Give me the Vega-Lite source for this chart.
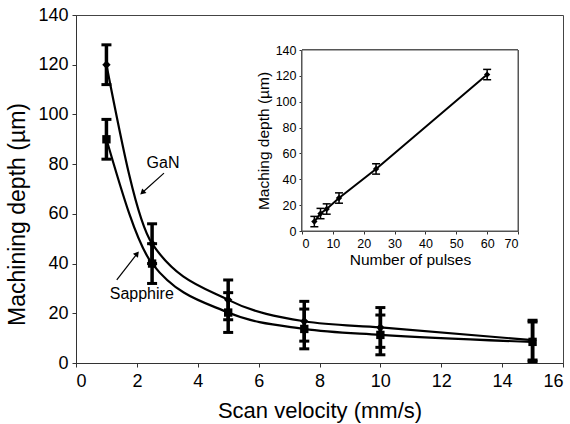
{
  "$schema": "https://vega.github.io/schema/vega-lite/v6.json",
  "width": 487,
  "height": 348,
  "autosize": {"type": "none"},
  "padding": {"left": 76, "top": 15, "right": 7, "bottom": 61},
  "background": "white",
  "config": {
    "font": "Liberation Sans",
    "view": {"stroke": "#444", "strokeWidth": 1},
    "axis": {"grid": false, "domainColor": "#333", "tickColor": "#333", "labelColor": "black", "titleColor": "black", "titleFontWeight": "normal", "labelFont": "Liberation Sans", "titleFont": "Liberation Sans"}
  },
  "datasets": {
    "main": [
      {"material": "GaN", "velocity": 1, "depth": 120, "lo": 112, "hi": 128},
      {"material": "GaN", "velocity": 2.5, "depth": 48, "lo": 40, "hi": 56},
      {"material": "GaN", "velocity": 5, "depth": 25.4, "lo": 17.4, "hi": 33.4},
      {"material": "GaN", "velocity": 7.5, "depth": 16.8, "lo": 8.8, "hi": 24.8},
      {"material": "GaN", "velocity": 10, "depth": 14.3, "lo": 6.3, "hi": 22.3},
      {"material": "GaN", "velocity": 15, "depth": 9.2, "lo": 1.2, "hi": 17.2},
      {"material": "Sapphire", "velocity": 1, "depth": 90, "lo": 82, "hi": 98},
      {"material": "Sapphire", "velocity": 2.5, "depth": 40, "lo": 32, "hi": 48},
      {"material": "Sapphire", "velocity": 5, "depth": 20.3, "lo": 12.3, "hi": 28.3},
      {"material": "Sapphire", "velocity": 7.5, "depth": 13.7, "lo": 5.7, "hi": 21.7},
      {"material": "Sapphire", "velocity": 10, "depth": 11.3, "lo": 3.3, "hi": 19.3},
      {"material": "Sapphire", "velocity": 15, "depth": 8.5, "lo": 0.5, "hi": 16.5}
    ],
    "inset": [
      {"pulses": 4, "depth": 7.3, "lo": 3.3, "hi": 11.3},
      {"pulses": 6, "depth": 13.5, "lo": 9.5, "hi": 17.5},
      {"pulses": 8, "depth": 17, "lo": 13, "hi": 21},
      {"pulses": 12, "depth": 25.5, "lo": 21.5, "hi": 29.5},
      {"pulses": 24, "depth": 48, "lo": 44, "hi": 52},
      {"pulses": 60, "depth": 121, "lo": 117, "hi": 125}
    ],
    "notes": [
      {"label": "GaN", "x": 2.86, "y": 80.5},
      {"label": "Sapphire", "x": 2.16, "y": 27.8}
    ],
    "arrows": [
      {"label": "GaN", "x": 2.89, "y": 76.4, "x2": 2.2, "y2": 68.8},
      {"label": "Sapphire", "x": 1.34, "y": 33.4, "x2": 1.99, "y2": 43.7}
    ]
  },
  "layer": [
    {
      "layer": [
        {
          "data": {"name": "main"},
          "mark": {"type": "line", "interpolate": "monotone", "color": "black", "strokeWidth": 2.2},
          "encoding": {
            "x": {"field": "velocity", "type": "quantitative", "scale": {"domain": [0, 16]},
              "axis": {"values": [0, 2, 4, 6, 8, 10, 12, 14, 16], "labelFontSize": 18, "tickSize": 4, "labelPadding": 5, "title": "Scan velocity (mm/s)", "titleFontSize": 22, "titlePadding": 10}},
            "y": {"field": "depth", "type": "quantitative", "scale": {"domain": [0, 140]},
              "axis": {"values": [0, 20, 40, 60, 80, 100, 120, 140], "labelFontSize": 18, "tickSize": 4, "labelPadding": 4, "title": "Machining depth (µm)", "titleFontSize": 23, "titleX": -59, "titleY": 199, "titleBaseline": "middle"}},
            "detail": {"field": "material"}
          }
        },
        {
          "data": {"name": "main"},
          "mark": {"type": "rule", "color": "black", "strokeWidth": 3.5},
          "encoding": {
            "x": {"field": "velocity", "type": "quantitative"},
            "y": {"field": "lo", "type": "quantitative"},
            "y2": {"field": "hi"}
          }
        },
        {
          "data": {"name": "main"},
          "mark": {"type": "tick", "orient": "horizontal", "color": "black", "opacity": 1, "size": 10, "thickness": 3},
          "encoding": {
            "x": {"field": "velocity", "type": "quantitative"},
            "y": {"field": "lo", "type": "quantitative"}
          }
        },
        {
          "data": {"name": "main"},
          "mark": {"type": "tick", "orient": "horizontal", "color": "black", "opacity": 1, "size": 10, "thickness": 3},
          "encoding": {
            "x": {"field": "velocity", "type": "quantitative"},
            "y": {"field": "hi", "type": "quantitative"}
          }
        },
        {
          "data": {"name": "main"},
          "mark": {"type": "point", "filled": true, "color": "black", "opacity": 1, "size": 70},
          "encoding": {
            "x": {"field": "velocity", "type": "quantitative"},
            "y": {"field": "depth", "type": "quantitative"},
            "shape": {"field": "material", "type": "nominal", "scale": {"domain": ["GaN", "Sapphire"], "range": ["diamond", "square"]}, "legend": null}
          }
        },
        {
          "data": {"name": "notes"},
          "mark": {"type": "text", "fontSize": 16, "color": "black", "font": "Liberation Sans"},
          "encoding": {
            "x": {"field": "x", "type": "quantitative"},
            "y": {"field": "y", "type": "quantitative"},
            "text": {"field": "label"}
          }
        },
        {
          "data": {"name": "arrows"},
          "mark": {"type": "rule", "color": "black", "strokeWidth": 1.2},
          "encoding": {
            "x": {"field": "x", "type": "quantitative"},
            "y": {"field": "y", "type": "quantitative"},
            "x2": {"field": "x2"},
            "y2": {"field": "y2"}
          }
        },
        {
          "data": {"name": "arrows"},
          "transform": [{"filter": "datum.label == 'GaN'"}],
          "mark": {"type": "point", "shape": "triangle", "filled": true, "color": "black", "opacity": 1, "size": 40, "angle": 228},
          "encoding": {
            "x": {"field": "x2", "type": "quantitative"},
            "y": {"field": "y2", "type": "quantitative"}
          }
        },
        {
          "data": {"name": "arrows"},
          "transform": [{"filter": "datum.label == 'Sapphire'"}],
          "mark": {"type": "point", "shape": "triangle", "filled": true, "color": "black", "opacity": 1, "size": 40, "angle": 38},
          "encoding": {
            "x": {"field": "x2", "type": "quantitative"},
            "y": {"field": "y2", "type": "quantitative"}
          }
        }
      ]
    },
    {
      "layer": [
        {
          "data": {"name": "inset"},
          "mark": {"type": "rect", "fill": "white", "stroke": "#555", "strokeWidth": 1},
          "encoding": {
            "x": {"datum": 0, "type": "quantitative", "scale": {"domain": [0, 70], "range": [226, 442]},
              "axis": {"orient": "bottom", "offset": -132, "values": [0, 10, 20, 30, 40, 50, 60, 70], "labelFontSize": 12.5, "tickSize": 3, "labelPadding": 3, "title": "Number of pulses", "titleFontSize": 15.5, "titlePadding": 3}},
            "x2": {"datum": 70},
            "y": {"datum": 0, "type": "quantitative", "scale": {"domain": [0, 140], "range": [216, 35]},
              "axis": {"orient": "left", "offset": -226, "values": [0, 20, 40, 60, 80, 100, 120, 140], "labelFontSize": 12.5, "tickSize": 3, "labelPadding": 3, "title": "Maching depth (µm)", "titleFontSize": 15.5, "titlePadding": 4}},
            "y2": {"datum": 140}
          }
        },
        {
          "data": {"name": "inset"},
          "mark": {"type": "line", "color": "black", "strokeWidth": 2},
          "encoding": {
            "x": {"field": "pulses", "type": "quantitative", "title": "Number of pulses"},
            "y": {"field": "depth", "type": "quantitative", "title": "Maching depth (µm)"}
          }
        },
        {
          "data": {"name": "inset"},
          "mark": {"type": "rule", "color": "black", "strokeWidth": 1.5},
          "encoding": {
            "x": {"field": "pulses", "type": "quantitative", "title": "Number of pulses"},
            "y": {"field": "lo", "type": "quantitative", "title": "Maching depth (µm)"},
            "y2": {"field": "hi"}
          }
        },
        {
          "data": {"name": "inset"},
          "mark": {"type": "tick", "orient": "horizontal", "color": "black", "opacity": 1, "size": 8, "thickness": 1.5},
          "encoding": {
            "x": {"field": "pulses", "type": "quantitative", "title": "Number of pulses"},
            "y": {"field": "lo", "type": "quantitative", "title": "Maching depth (µm)"}
          }
        },
        {
          "data": {"name": "inset"},
          "mark": {"type": "tick", "orient": "horizontal", "color": "black", "opacity": 1, "size": 8, "thickness": 1.5},
          "encoding": {
            "x": {"field": "pulses", "type": "quantitative", "title": "Number of pulses"},
            "y": {"field": "hi", "type": "quantitative", "title": "Maching depth (µm)"}
          }
        },
        {
          "data": {"name": "inset"},
          "mark": {"type": "point", "shape": "diamond", "filled": true, "color": "black", "opacity": 1, "size": 40},
          "encoding": {
            "x": {"field": "pulses", "type": "quantitative", "title": "Number of pulses"},
            "y": {"field": "depth", "type": "quantitative", "title": "Maching depth (µm)"}
          }
        }
      ]
    }
  ],
  "resolve": {"scale": {"x": "independent", "y": "independent"}, "axis": {"x": "independent", "y": "independent"}}
}
